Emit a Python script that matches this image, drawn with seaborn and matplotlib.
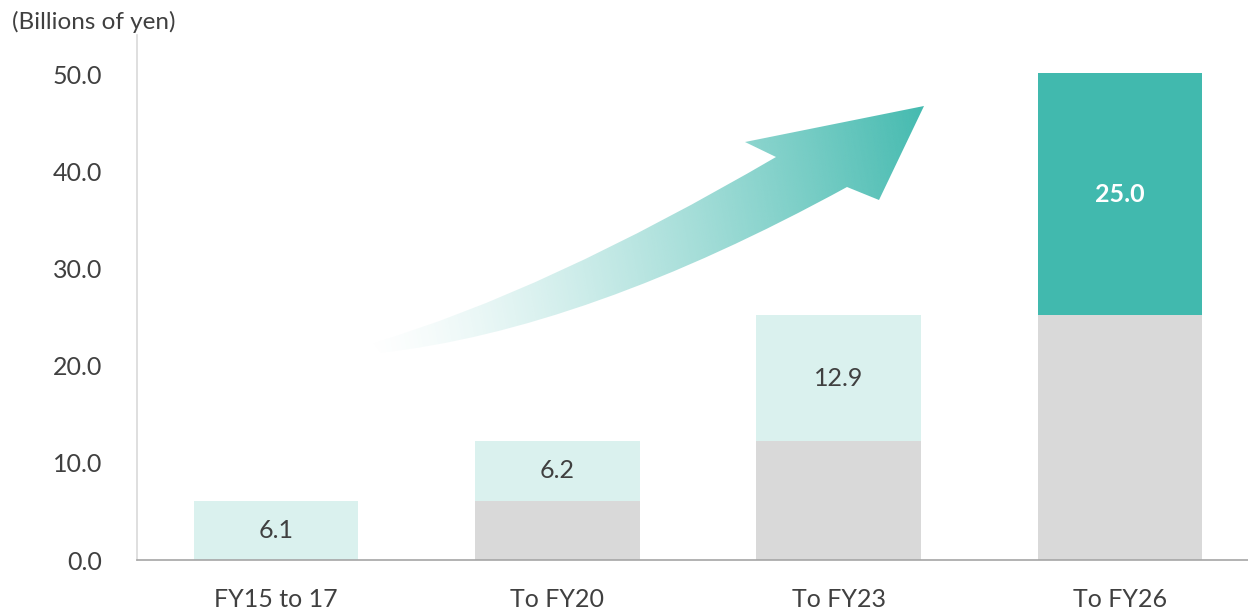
import numpy as np
import pandas as pd
import matplotlib
matplotlib.use("Agg")
import matplotlib.pyplot as plt
from matplotlib.path import Path
from matplotlib.patches import PathPatch
import seaborn as sns

# Cumulative investment, billions of yen
periods = ["FY15 to 17", "To FY20", "To FY23", "To FY26"]
added = [6.1, 6.2, 12.9, 25.0]          # amount added in each period
carried = [0.0, 6.1, 12.3, 25.2]         # cumulative amount brought forward
y_ticks = [0, 10, 20, 30, 40, 50]

GRAY = "#D9D9D9"
MINT = "#DAF1EE"
TEAL = "#41B9AE"
TEXT = "#404040"

sns.set_theme(style="white")
plt.rcParams["font.family"] = ["Lato", "DejaVu Sans"]

df = pd.DataFrame({"period": periods, "added": added, "carried": carried})
df["total"] = df["added"] + df["carried"]

fig = plt.figure(figsize=(12.48, 6.10), dpi=100)
ax = fig.add_axes([137 / 1248, 1 - 560 / 610, 1 - 137 / 1248, 525 / 610])

top_colors = [MINT, MINT, MINT, TEAL]
sns.barplot(data=df, x="period", y="total", hue="period", palette=top_colors,
            legend=False, width=0.586, ax=ax, saturation=1, linewidth=0)
sns.barplot(data=df, x="period", y="carried", color=GRAY, width=0.586,
            ax=ax, saturation=1, linewidth=0)

# Value labels for each period's increment
for i, (a, c) in enumerate(zip(added, carried)):
    last = i == len(added) - 1
    ax.text(i, c + a / 2, f"{a:.1f}", ha="center", va="center",
            fontsize=18, color="white" if last else TEXT,
            fontweight="bold" if last else "normal")

ax.set_xlim(-0.494, 3.455)
ax.set_ylim(0, 54.1)
ax.set_yticks(y_ticks)
ax.set_yticklabels([f"{v:.1f}" for v in y_ticks])
ax.set_xlabel("")
ax.set_ylabel("")
ax.tick_params(axis="y", length=0, pad=25, labelsize=18, labelcolor=TEXT)
ax.tick_params(axis="x", length=0, pad=20, labelsize=18, labelcolor=TEXT)
for s in ["top", "right"]:
    ax.spines[s].set_visible(False)
ax.spines["left"].set_color("#D9D9D9")
ax.spines["left"].set_linewidth(1.2)
ax.spines["bottom"].set_color("#A6A6A6")
ax.spines["bottom"].set_linewidth(1.2)

fig.text(12 / 1248, 1 - 22 / 610, "(Billions of yen)", ha="left", va="center",
         fontsize=17.5, color=TEXT)

# Decorative growth arrow with a left-to-right fade, drawn in pixel space
ov = fig.add_axes([0, 0, 1, 1], zorder=3)
ov.set_xlim(0, 1248)
ov.set_ylim(610, 0)
ov.axis("off")
ov.patch.set_alpha(0)

verts = [(373, 343), (545, 292), (776, 157), (745, 142), (924, 106),
         (879, 200), (847, 187), (586, 330), (380, 353), (373, 343)]
codes = [Path.MOVETO, Path.CURVE3, Path.CURVE3, Path.LINETO, Path.LINETO,
         Path.LINETO, Path.LINETO, Path.CURVE3, Path.CURVE3, Path.CLOSEPOLY]
arrow = PathPatch(Path(verts, codes), facecolor="none", edgecolor="none")
ov.add_patch(arrow)

x0, x1, y0, y1 = 365, 930, 100, 360
gx = np.linspace(0, 1, 400)
gy = np.linspace(0, 1, 200)
GX, GY = np.meshgrid(gx, gy)
t = np.clip(GX * 0.92 + (1 - GY) * 0.08, 0, 1) ** 1.35
rgb = np.array(matplotlib.colors.to_rgb(TEAL))
img = np.ones((200, 400, 4))
img[..., :3] = rgb
img[..., 3] = t
im = ov.imshow(img, extent=(x0, x1, y1, y0), origin="upper",
               interpolation="bilinear", aspect="auto")
im.set_clip_path(arrow)

fig.savefig("out.png", dpi=100)
